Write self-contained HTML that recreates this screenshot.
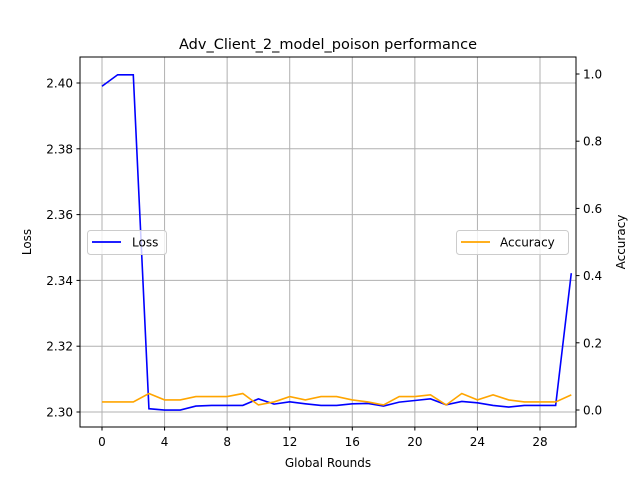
<!DOCTYPE html>
<html><head><meta charset="utf-8"><style>
body{margin:0;background:#fff;font-family:"DejaVu Sans","Liberation Sans",sans-serif}
svg text{font-family:"DejaVu Sans","Liberation Sans",sans-serif}
</style></head><body>
<svg id="c" width="640" height="480" xmlns="http://www.w3.org/2000/svg">
<rect x="0" y="0" width="640" height="480" fill="#fff"/>
<text x="328" y="49" font-size="14.5" text-anchor="middle">Adv_Client_2_model_poison performance</text>
<g id="grid"></g>
<g id="series"></g>
<rect x="80" y="57" width="496" height="370" fill="none" stroke="#000" stroke-width="1"/>
<g id="axes"></g>
<text x="328" y="467" font-size="12" text-anchor="middle">Global Rounds</text>
<text transform="translate(31,242) rotate(-90)" font-size="12" text-anchor="middle">Loss</text>
<text transform="translate(625,242) rotate(-90)" font-size="12" text-anchor="middle">Accuracy</text>
<g>
<rect x="87.5" y="230.5" width="79" height="24" rx="3" fill="#fff" fill-opacity="0.8" stroke="#ccc"/>
<line x1="92" y1="242" x2="121" y2="242" stroke="#0000ff" stroke-width="1.8"/>
<text x="132" y="246.5" font-size="12">Loss</text>
</g>
<g>
<rect x="456.5" y="230.5" width="112" height="24" rx="3" fill="#fff" fill-opacity="0.8" stroke="#ccc"/>
<line x1="461" y1="242" x2="490" y2="242" stroke="#ffa500" stroke-width="1.8"/>
<text x="500" y="246.5" font-size="12">Accuracy</text>
</g>
</svg>
<script>
const rounds=[0,1,2,3,4,5,6,7,8,9,10,11,12,13,14,15,16,17,18,19,20,21,22,23,24,25,26,27,28,29,30];
const lossValues=[2.399,2.4025,2.4025,2.301,2.3006,2.3006,2.3018,2.302,2.302,2.302,2.304,2.3024,2.3031,2.3025,2.302,2.302,2.3025,2.3026,2.3018,2.303,2.3035,2.304,2.3022,2.3032,2.3028,2.302,2.3015,2.302,2.302,2.302,2.3422];
const accValues=[0.024,0.024,0.024,0.049,0.030,0.030,0.040,0.040,0.040,0.049,0.015,0.024,0.040,0.030,0.040,0.040,0.030,0.024,0.015,0.040,0.040,0.045,0.015,0.049,0.030,0.045,0.030,0.024,0.024,0.024,0.045];
const xTicks=[0,4,8,12,16,20,24,28];
const lossTicks=[2.30,2.32,2.34,2.36,2.38,2.40];
const accTicks=[0.0,0.2,0.4,0.6,0.8,1.0];
const NS="http://www.w3.org/2000/svg";
const xs=v=>102+v*(540-102)/28;
const yl=v=>412+(v-2.30)*(83-412)/0.10;
const ya=v=>410+v*(74-410);
function mk(t,a,p){const e=document.createElementNS(NS,t);for(const k in a)e.setAttribute(k,a[k]);p.appendChild(e);return e;}
const grid=document.getElementById('grid'),axes=document.getElementById('axes'),ser=document.getElementById('series');
xTicks.forEach(t=>{const x=xs(t);
const g=mk('line',{x1:x,x2:x,y1:57,y2:427,stroke:'#b0b0b0','stroke-width':1},grid);


mk('line',{x1:x,x2:x,y1:427,y2:430.5,stroke:'#000'},axes);
const tx=mk('text',{x:x,y:446,'font-size':12,'text-anchor':'middle'},axes);tx.textContent=t;

});
lossTicks.forEach(t=>{const y=yl(t);
const g=mk('line',{x1:80,x2:576,y1:y,y2:y,stroke:'#b0b0b0','stroke-width':1},grid);


mk('line',{x1:76.5,x2:80,y1:y,y2:y,stroke:'#000'},axes);
const tx=mk('text',{x:73,y:y+4.5,'font-size':12,'text-anchor':'end'},axes);tx.textContent=t.toFixed(2);

});
accTicks.forEach(t=>{const y=ya(t);
mk('line',{x1:576,x2:579.5,y1:y,y2:y,stroke:'#000'},axes);
const tx=mk('text',{x:583,y:y+4.5,'font-size':12},axes);tx.textContent=t.toFixed(1);

});
const lp=mk('polyline',{points:rounds.map((r,i)=>xs(r)+','+yl(lossValues[i])).join(' '),fill:'none',stroke:'#0000ff','stroke-width':1.6},ser);


const ap=mk('polyline',{points:rounds.map((r,i)=>xs(r)+','+ya(accValues[i])).join(' '),fill:'none',stroke:'#ffa500','stroke-width':1.6},ser);


</script>
</body></html>
